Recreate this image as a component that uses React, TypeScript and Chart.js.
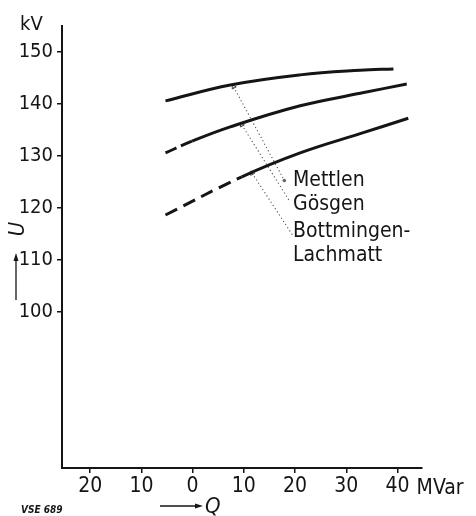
import { useEffect, useRef } from "react";
import { Chart, registerables } from "chart.js";

Chart.register(...registerables);

// ---- data ----
const xTickValues = [-20, -10, 0, 10, 20, 30, 40];
const yTickValues = [100, 110, 120, 130, 140, 150];

const mettlenQ = [-5.3, 7.35, 21.0, 32.7, 39.2];
const mettlenU = [140.6, 143.65, 145.6, 146.5, 146.75];

const goesgenQ = [-5.3, -0.1, 7.35, 21.0, 32.7, 41.8];
const goesgenU = [130.6, 132.85, 135.6, 139.65, 142.05, 143.85];
const goesgenDashEnd = -0.1;

const bottQ = [-5.3, 9.6, 21.0, 32.7, 42.1];
const bottU = [118.65, 126.0, 130.6, 134.3, 137.25];
const bottDashEnd = 9.6;

const mettlenPtrQ = [8.0, 17.9];
const mettlenPtrU = [143.3, 125.3];
const goesgenPtrQ = [9.6, 19.0];
const goesgenPtrU = [136.0, 121.2];
const bottPtrQ = [11.6, 19.7];
const bottPtrU = [126.7, 114.5];

const stationLabels = ["Mettlen", "Gösgen", "Bottmingen-", "Lachmatt"];

const FONT = '"DejaVu Sans Condensed", "DejaVu Sans", sans-serif';
const INK = "#151515";

const zip = (xs: number[], ys: number[]) => xs.map((x, i) => ({ x, y: ys[i] }));

const textPlugin = {
  id: "figureText",
  afterDraw(chart: any) {
    const ctx = chart.ctx as CanvasRenderingContext2D;
    const xs = chart.scales.x;
    const ys = chart.scales.y;
    const area = chart.chartArea;
    ctx.save();
    ctx.fillStyle = INK;
    ctx.strokeStyle = INK;
    ctx.textBaseline = "alphabetic";
    ctx.textAlign = "left";

    // unit labels
    ctx.font = `20px ${FONT}`;
    ctx.fillText("kV", 20, 30);
    ctx.font = `21px ${FONT}`;
    ctx.fillText("MVar", area.right - 5, 494);

    // station labels
    ctx.font = `21px ${FONT}`;
    const lx = xs.getPixelForValue(19.6);
    const baselines = [124.2, 119.6, 114.4, 109.8];
    stationLabels.forEach((t, i) => ctx.fillText(t, lx, ys.getPixelForValue(baselines[i])));

    // U axis symbol (rotated) with arrow
    ctx.save();
    ctx.translate(18, 229);
    ctx.rotate(-Math.PI / 2);
    ctx.font = `italic 22px ${FONT}`;
    ctx.textAlign = "center";
    ctx.textBaseline = "middle";
    ctx.fillText("U", 0, 0);
    ctx.restore();

    ctx.lineWidth = 1.3;
    ctx.beginPath();
    ctx.moveTo(16, 300);
    ctx.lineTo(16, 258);
    ctx.stroke();
    ctx.beginPath();
    ctx.moveTo(16, 253);
    ctx.lineTo(13.5, 261);
    ctx.lineTo(18.5, 261);
    ctx.closePath();
    ctx.fill();

    // Q axis symbol with arrow
    ctx.beginPath();
    ctx.moveTo(160, 506);
    ctx.lineTo(197, 506);
    ctx.stroke();
    ctx.beginPath();
    ctx.moveTo(203, 506);
    ctx.lineTo(195, 503.5);
    ctx.lineTo(195, 508.5);
    ctx.closePath();
    ctx.fill();
    ctx.font = `italic 22px ${FONT}`;
    ctx.fillText("Q", 205, 513);

    // figure code
    ctx.font = `italic bold 10px ${FONT}`;
    ctx.fillText("VSE 689", 21, 513);
    ctx.restore();
  },
};

export default function App() {
  const ref = useRef<HTMLCanvasElement | null>(null);

  useEffect(() => {
    if (!ref.current) return;
    const curve = (data: any[], dashEnd: number | null, dash: number[]) => ({
      data,
      borderColor: INK,
      borderWidth: 3,
      pointRadius: 0,
      tension: 0.4,
      fill: false,
      segment:
        dashEnd === null
          ? undefined
          : { borderDash: (c: any) => (c.p1.parsed.x <= dashEnd + 1e-6 ? dash : undefined) },
    });
    const pointer = (data: any[], endDot: boolean) => ({
      data,
      borderColor: "#555",
      borderWidth: 1.1,
      borderDash: [1.2, 2.6],
      pointRadius: [2.6, endDot ? 1.8 : 0],
      pointStyle: ["triangle", "circle"],
      pointRotation: -28,
      pointBackgroundColor: ["rgba(0,0,0,0)", "#666"],
      pointBorderColor: ["#444", "#666"],
      pointBorderWidth: [1, 0],
      tension: 0,
      fill: false,
    });

    const chart = new Chart(ref.current, {
      type: "line",
      data: {
        datasets: [
          curve(zip(mettlenQ, mettlenU), null, []),
          curve(zip(goesgenQ, goesgenU), goesgenDashEnd, [12, 5]),
          curve(zip(bottQ, bottU), bottDashEnd, [13, 7]),
          pointer(zip(mettlenPtrQ, mettlenPtrU), true),
          pointer(zip(goesgenPtrQ, goesgenPtrU), false),
          pointer(zip(bottPtrQ, bottPtrU), false),
        ] as any,
      },
      options: {
        animation: false,
        responsive: false,
        devicePixelRatio: 1,
        layout: { padding: { top: 26, right: 54.4, left: 0, bottom: 0 } },
        plugins: { legend: { display: false }, tooltip: { enabled: false } },
        scales: {
          x: {
            type: "linear",
            position: "bottom",
            min: -25.5,
            max: 44.7,
            afterBuildTicks: (s: any) => {
              s.ticks = xTickValues.map((v) => ({ value: v }));
            },
            afterFit: (s: any) => {
              s.height = 48;
            },
            ticks: {
              callback: (v: any) => String(Math.abs(Number(v))),
              color: INK,
              font: { family: FONT, size: 21 },
              padding: 1,
              maxRotation: 0,
              autoSkip: false,
            },
            grid: {
              display: true,
              drawOnChartArea: false,
              drawTicks: true,
              tickLength: 5,
              color: INK,
              lineWidth: 1.5,
            },
            border: { display: true, color: INK, width: 2 },
          },
          y: {
            type: "linear",
            min: 70,
            max: 155,
            afterBuildTicks: (s: any) => {
              s.ticks = yTickValues.map((v) => ({ value: v }));
            },
            afterFit: (s: any) => {
              s.width = 62;
            },
            ticks: {
              color: INK,
              font: { family: FONT, size: 20 },
              padding: 4,
            },
            grid: {
              display: true,
              drawOnChartArea: false,
              drawTicks: true,
              tickLength: 5,
              color: INK,
              lineWidth: 1.5,
            },
            border: { display: true, color: INK, width: 2 },
          },
        },
      },
      plugins: [textPlugin],
    });
    return () => chart.destroy();
  }, []);

  return (
    <div style={{ position: "fixed", left: 0, top: 0, width: 476, height: 516, background: "#fff" }}>
      <canvas ref={ref} width={476} height={516} style={{ width: 476, height: 516, display: "block" }} />
    </div>
  );
}
